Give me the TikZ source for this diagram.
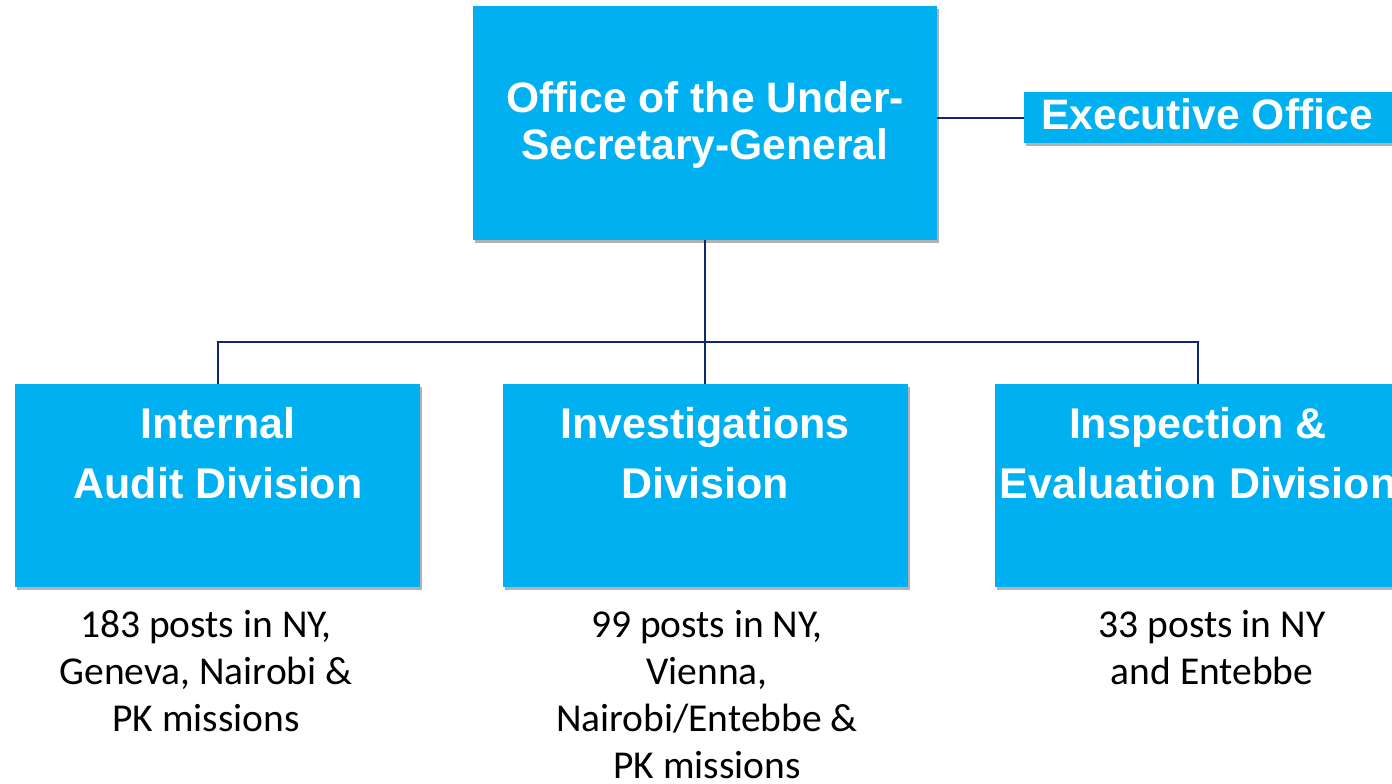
\documentclass[tikz,border=0pt]{standalone}
\usepackage{fontspec}
\setmainfont{Carlito}
\newfontfamily\arialf{Liberation Sans}
\usetikzlibrary{shadows}
\definecolor{boxblue}{HTML}{00B0F0}
\definecolor{linenavy}{HTML}{0E2A6B}
\begin{document}
\begin{tikzpicture}[x=1pt,y=-1pt,
  box/.style={fill=boxblue, draw=none, inner sep=0pt, outer sep=0pt,
    drop shadow={shadow xshift=2pt, shadow yshift=-3pt, opacity=0.3, fill=black}},
  toptext/.style={text=white, font=\arialf\bfseries\fontsize{42.6}{47}\selectfont, align=center, anchor=base, inner sep=0pt},
  divtext/.style={text=white, font=\arialf\bfseries\fontsize{43}{60}\selectfont, align=center, anchor=base, inner sep=0pt},
  note/.style={text=black, font=\fontsize{39.5}{47}\selectfont, align=center, anchor=base, inner sep=0pt},
  link/.style={draw=linenavy, line width=2pt}]
\useasboundingbox (0,0) rectangle (1392,784);
\clip (0,0) rectangle (1392,784);
% connectors
\coordinate (bus) at (705,342);
% boxes (empty shapes)
\node[box, minimum width=464pt, minimum height=234pt] (top) at (705,123) {};
\node[box, minimum width=368pt, minimum height=51pt] (exec) at (1208,117.5) {};
\node[box, minimum width=405pt, minimum height=203pt] (b1) at (217.5,485.5) {};
\node[box, minimum width=405pt, minimum height=203pt] (b2) at (705.5,485.5) {};
\node[box, minimum width=405pt, minimum height=203pt] (b3) at (1197.5,485.5) {};
\draw[link] (top.east |- exec.west) -- (exec.west);
\draw[link] (top.south) -- (bus);
\draw[link] (b1.north) -- (b1.north |- bus) -- (b3.north |- bus) -- (b3.north);
\draw[link] (bus) -- (bus |- b2.north);
% texts (anchored at the baseline of the last line)
\node[toptext] (ttop) at (705,159) {Office of the Under-\\Secretary-General};
\node[toptext] (texec) at (1207,129) {Executive Office};
\node[divtext] (t1) at (218,498) {Internal\\Audit Division};
\node[divtext] (t2) at (705,498) {Investigations\\Division};
\node[divtext] (t3) at (1198,498) {Inspection \&\\Evaluation Division};
\node[note] (n1) at (206,731) {183 posts in NY,\\Geneva, Nairobi \&\\PK missions};
\node[note] (n2) at (707,778) {99 posts in NY,\\Vienna,\\Nairobi/Entebbe \&\\PK missions};
\node[note] (n3) at (1212,684) {33 posts in NY\\and Entebbe};
\end{tikzpicture}
\end{document}
